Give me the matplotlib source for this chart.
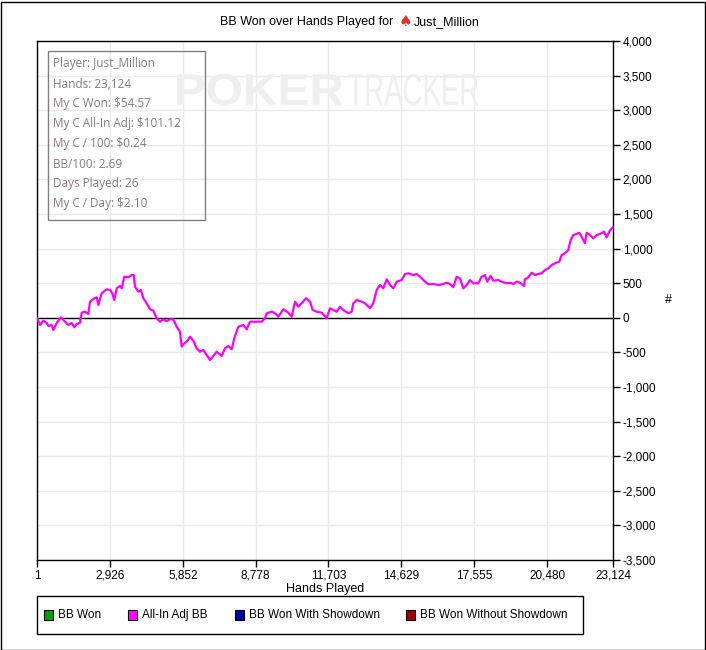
#!/usr/bin/env python3
"""BB won over hands played (PokerTracker style graph)."""

import matplotlib
matplotlib.use('Agg')
import matplotlib.pyplot as plt
from matplotlib.patches import Rectangle, PathPatch
from matplotlib.textpath import TextPath
from matplotlib.font_manager import FontProperties
from matplotlib.transforms import Affine2D
from matplotlib.ticker import FuncFormatter

# hand number and all-in adjusted BB
hands = [1, 121, 254, 390, 455, 591, 655, 792, 964, 1125, 1257, 1394, 1498, 1595,
         1727, 1795, 1928, 2060, 2128, 2301, 2397, 2462, 2598, 2799, 2931, 3024,
         3104, 3200, 3333, 3401, 3505, 3666, 3802, 3883, 3935, 4067, 4176, 4268,
         4404, 4537, 4669, 4806, 4938, 5071, 5207, 5340, 5472, 5608, 5741, 5809,
         5913, 6010, 6142, 6275, 6411, 6544, 6676, 6813, 6945, 7078, 7214, 7415,
         7547, 7680, 7816, 7921, 8081, 8282, 8419, 8551, 8752, 9021, 9153, 9221,
         9422, 9554, 9687, 9888, 10088, 10225, 10357, 10490, 10626, 10799, 10959,
         11068, 11228, 11429, 11630, 11762, 11895, 12031, 12164, 12296, 12497,
         12633, 12698, 12834, 13035, 13167, 13368, 13500, 13637, 13769, 13902,
         14038, 14171, 14303, 14440, 14640, 14773, 14905, 15106, 15242, 15375,
         15576, 15708, 15909, 16110, 16310, 16447, 16579, 16712, 16848, 16981,
         17113, 17250, 17382, 17514, 17715, 17852, 17984, 18077, 18213, 18317,
         18518, 18655, 18855, 18988, 19120, 19257, 19389, 19550, 19590, 19722,
         19859, 19991, 20124, 20260, 20393, 20525, 20662, 20794, 20967, 21063,
         21196, 21328, 21425, 21529, 21665, 21770, 21866, 21998, 22067, 22199,
         22331, 22468, 22600, 22761, 22869, 22974, 23070, 23124]
allin_bb = [0, -104, -42, -75, -118, -104, -176, -75, 7, -56, -104, -75, -137, -90,
            -71, 74, 88, 55, 233, 282, 296, 185, 354, 412, 402, 354,
            257, 426, 460, 426, 594, 585, 618, 618, 449, 377, 402, 282,
            210, 123, 103, -7, -56, -22, -46, -22, -22, -129, -201, -417,
            -368, -345, -273, -331, -441, -490, -465, -538, -610, -552, -490, -552,
            -441, -407, -455, -296, -129, -104, -166, -56, -56, -56, -7, 65,
            88, 65, 16, 123, 74, 16, 233, 160, 210, 282, 233,
            113, 88, 74, -7, 137, 113, 88, 160, 113, 65,
            88, 210, 257, 233, 210, 137, 210, 402, 474, 426,
            556, 474, 426, 522, 546, 633, 643, 618, 633, 594,
            522, 484, 488, 474, 488, 507, 488, 441, 594, 571,
            426, 474, 546, 499, 499, 594, 618, 522, 604, 536,
            546, 522, 499, 507, 488, 522, 507, 460, 556, 585,
            652, 618, 633, 643, 691, 715, 763, 788, 811, 907,
            932, 980, 1124, 1196, 1211, 1230, 1172, 1077, 1230, 1196,
            1149, 1196, 1211, 1244, 1163, 1244, 1293, 1305]

x_ticks = [1, 2926, 5852, 8778, 11703, 14629, 17555, 20480, 23124]
y_ticks = list(range(-3500, 4001, 500))

stats = ['Player: Just_Million', 'Hands: 23,124', 'My C Won: $54.57',
         'My C All-In Adj: $101.12', 'My C / 100: $0.24', 'BB/100: 2.69',
         'Days Played: 26', 'My C / Day: $2.10']

legend_names = ['BB Won', 'All-In Adj BB', 'BB Won With Showdown', 'BB Won Without Showdown']
legend_colors = ['#00A000', '#FF00FF', '#0000A0', '#A00000']

W, H = 706, 650
FONT = 'Liberation Sans'

fig = plt.figure(figsize=(W / 100, H / 100), dpi=100)
ax = fig.add_axes([37 / W, 1 - 560 / H, 576 / W, 519 / H])

ax.plot(hands, allin_bb, color='#FF00FF', linewidth=1.6, zorder=4)
ax.axhline(0, color='black', linewidth=1, zorder=3)

ax.set_xlim(1, 23124)
ax.set_ylim(-3500, 4000)
ax.set_xticks(x_ticks)
ax.set_yticks(y_ticks)
ax.xaxis.set_major_formatter(FuncFormatter(lambda v, p: f'{int(v):,}'))
ax.yaxis.set_major_formatter(FuncFormatter(lambda v, p: f'{int(v):,}'))
ax.yaxis.tick_right()
ax.tick_params(axis='both', direction='out', length=5, width=1, colors='black',
               labelsize=8.5, pad=2)
for lab in ax.get_xticklabels() + ax.get_yticklabels():
    lab.set_family(FONT)
ax.grid(True, color='#ebebeb', linewidth=1, zorder=0)
ax.set_axisbelow(True)
for sp in ax.spines.values():
    sp.set_color('black')
    sp.set_linewidth(1)

fig.text(325 / W, 1 - 589 / H, 'Hands Played', ha='center', va='center',
         fontsize=9, family=FONT)
fig.text(668 / W, 1 - 300 / H, '#', ha='center', va='center', fontsize=9, family=FONT)


# watermark, squeezed to fit the box it takes in the reference (pixel coords)
def watermark(word, x0, x1, baseline, cap, weight):
    tp = TextPath((0, 0), word, size=cap / 0.716,
                  prop=FontProperties(family=FONT, weight=weight))
    ext = tp.get_extents()
    sx = (x1 - x0) / ext.width
    tr = Affine2D().translate(-ext.x0, 0).scale(sx, 1).translate(x0, H - baseline)
    fig.add_artist(PathPatch(tp, transform=tr, facecolor='#efefef',
                             edgecolor='none', zorder=1))


watermark('POKER', 177, 343, 105, 32, 'bold')
watermark('TRACKER', 348, 478, 105, 32, 'normal')

# stats box
ax.add_patch(Rectangle(((48 - 37) / 576, (560 - 220) / 519), 157 / 576, 169 / 519,
                       transform=ax.transAxes, facecolor='none', edgecolor='#808080',
                       linewidth=1, zorder=5))
for i, s in enumerate(stats):
    ax.text((53 - 37) / 576, (560 - 64 - 20 * i) / 519, s, transform=ax.transAxes,
            ha='left', va='center', fontsize=8.5, family='Open Sans',
            color='#8a7a82', zorder=6)

# title
fig.text(393 / W, 1 - 22 / H, 'BB Won over Hands Played for', ha='right', va='center',
         fontsize=9, family=FONT)
fig.text(405 / W, 1 - 22 / H, '\u2660', ha='center', va='center', fontsize=11,
         color='#e0302a', family='DejaVu Sans')
fig.text(414 / W, 1 - 22 / H, 'Just_Million', ha='left', va='center',
         fontsize=9, family=FONT)

# legend
fig.add_artist(Rectangle((37 / W, 1 - 634 / H), 546 / W, 38 / H, transform=fig.transFigure,
                         facecolor='white', edgecolor='black', linewidth=1))
legend_x = [44, 128, 235, 406]
for lx, name, col in zip(legend_x, legend_names, legend_colors):
    fig.add_artist(Rectangle((lx / W, 1 - 620 / H), 9 / W, 10 / H, transform=fig.transFigure,
                             facecolor=col, edgecolor='black', linewidth=0.8))
    fig.text((lx + 14) / W, 1 - 615 / H, name, ha='left', va='center',
             fontsize=8.5, family=FONT)

# outer border
fig.add_artist(Rectangle((0.5 / W, 0.5 / H), (W - 2) / W, (H - 2) / H,
                         transform=fig.transFigure, facecolor='none',
                         edgecolor='black', linewidth=1))

fig.savefig('out.png', dpi=100)
